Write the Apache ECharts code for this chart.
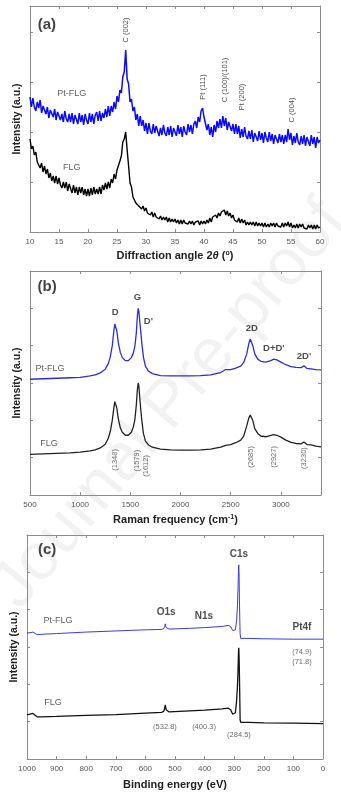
<!DOCTYPE html>
<html><head><meta charset="utf-8">
<script src="https://cdn.jsdelivr.net/npm/echarts@6/dist/echarts.min.js"></script>
<style>html,body{margin:0;padding:0;background:#fff}#c{width:341px;height:806px}</style>
</head><body><div id="c"></div>
<script>
// ---------- (a) XRD ----------
const xrdAngle = [10,10.25,10.5,10.75,11,11.25,11.5,11.75,12,12.25,12.5,12.75,13,13.25,13.5,13.75,14,14.25,14.5,14.75,
15,15.25,15.5,15.75,16,16.25,16.5,16.75,17,17.25,17.5,17.75,18,18.25,18.5,18.75,19,19.25,19.5,19.75,
20,20.25,20.5,20.75,21,21.25,21.5,21.75,22,22.25,22.5,22.75,23,23.25,23.5,23.75,24,24.25,24.5,24.75,
25,25.25,25.5,25.75,26,26.25,26.5,26.75,27,27.25,27.5,27.75,28,28.25,28.5,28.75,29,29.25,29.5,29.75,
30,30.25,30.5,30.75,31,31.25,31.5,31.75,32,32.25,32.5,32.75,33,33.25,33.5,33.75,34,34.25,34.5,34.75,
35,35.25,35.5,35.75,36,36.25,36.5,36.75,37,37.25,37.5,37.75,38,38.25,38.5,38.75,39,39.25,39.5,39.75,
40,40.25,40.5,40.75,41,41.25,41.5,41.75,42,42.25,42.5,42.75,43,43.25,43.5,43.75,44,44.25,44.5,44.75,
45,45.25,45.5,45.75,46,46.25,46.5,46.75,47,47.25,47.5,47.75,48,48.25,48.5,48.75,49,49.25,49.5,49.75,
50,50.25,50.5,50.75,51,51.25,51.5,51.75,52,52.25,52.5,52.75,53,53.25,53.5,53.75,54,54.25,54.5,54.75,
55,55.25,55.5,55.75,56,56.25,56.5,56.75,57,57.25,57.5,57.75,58,58.25,58.5,58.75,59,59.25,59.5,59.75,60];
const xrdPtFLG = [135,125,134,125,121,130,124,132,119,126,128,118,125,114,122,124,115,123,112,120,
121,112,118,110,121,113,110,118,110,119,108,117,115,108,119,110,117,107,118,112,
108,119,110,118,108,117,120,111,121,111,119,114,123,115,126,116,126,120,130,123,
136,130,142,139,155,160,182,153,148,130,133,121,125,112,118,106,116,106,112,101,
109,98,109,101,98,108,99,106,107,96,104,97,107,99,96,105,97,106,95,104,
103,96,107,98,105,95,106,100,97,108,100,107,98,108,111,104,115,110,121,124,
115,117,102,108,97,105,95,107,100,111,104,113,104,116,106,114,102,110,111,101,
108,98,108,98,106,94,103,95,105,96,93,101,93,102,90,99,98,91,101,92,
99,89,100,94,90,100,91,98,88,97,98,89,98,90,97,88,97,90,103,92,
99,87,96,89,99,90,87,96,88,97,86,95,94,86,97,88,95,84,95,89,92];
const xrdFLG = [93,83,86,77,80,70,72,64,69,60,66,58,63,54,59,51,56,49,56,48,
54,47,44,50,44,50,41,48,46,39,47,39,45,37,45,39,45,37,43,36,
43,36,44,37,45,38,43,38,45,38,47,42,49,43,50,44,53,49,58,53,
62,60,71,76,90,93,100,82,66,49,45,35,35,29,31,26,28,23,26,21,
24,19,21,17,20,15,19,15,17,13,16,12,15,12,15,10,14,10,13,10,
13,9,12,8,12,8,12,9,11,8,11,8,11,7,10,8,11,7,11,8,
11,8,12,9,14,10,15,13,17,14,19,16,20,18,22,17,21,16,19,14,
17,12,14,10,14,9,13,9,12,7,10,7,10,7,10,6,10,6,9,6,
9,5,9,5,8,5,9,6,9,5,9,6,8,5,9,5,9,6,10,5,
9,4,7,4,8,4,8,5,8,4,6,3,7,4,7,3,7,3,7,4,5];
const xrdPeakLabels = ['C (002)','Pt (111)','C (100)/(101)','Pt (200)','C (004)'];
const xrdPeakAt = [[26.5,202],[39.8,145],[43.6,152],[46.5,135],[55.2,122]];
const xrdTags = ['(a)','Pt-FLG','FLG'];
const xrdTagAt = [[12.9,207],[17.2,138],[17.2,64]];

// ---------- (b) Raman ----------
const ramanShift = [500,700,900,1000,1100,1150,1200,1250,1280,1300,1320,1335,1345,1350,1355,1365,1380,1400,1420,1450,
1480,1510,1530,1545,1560,1570,1578,1585,1595,1605,1615,1630,1650,1680,1720,1800,1900,2000,2100,2200,
2300,2400,2450,2500,2550,2600,2630,2660,2680,2695,2705,2720,2740,2770,2800,2850,2900,2930,2960,3000,
3050,3100,3150,3200,3230,3260,3300,3350,3400];
const ramanPtFLG = [3.10,3.12,3.14,3.15,3.19,3.22,3.27,3.37,3.52,3.70,4.00,4.38,4.58,4.62,4.58,4.40,4.08,3.82,3.68,3.60,
3.60,3.68,3.80,3.98,4.35,4.80,5.00,4.92,4.62,4.35,4.05,3.70,3.45,3.32,3.25,3.20,3.19,3.19,3.19,3.20,
3.22,3.28,3.36,3.36,3.40,3.45,3.55,3.78,4.05,4.18,4.16,4.00,3.78,3.64,3.58,3.56,3.60,3.64,3.62,3.56,
3.49,3.44,3.42,3.41,3.46,3.39,3.38,3.36,3.35];
const ramanFLG = [1.09,1.11,1.13,1.15,1.18,1.21,1.26,1.36,1.52,1.70,2.00,2.32,2.50,2.54,2.50,2.33,2.04,1.80,1.68,1.60,
1.60,1.68,1.82,2.02,2.42,2.82,3.00,2.92,2.58,2.25,1.98,1.65,1.45,1.34,1.28,1.23,1.21,1.20,1.20,1.21,
1.23,1.28,1.33,1.35,1.40,1.47,1.58,1.85,2.06,2.14,2.13,2.00,1.78,1.65,1.58,1.56,1.60,1.62,1.60,1.55,
1.47,1.41,1.38,1.37,1.42,1.35,1.34,1.31,1.29];
const ramanBandLabels = ['D','G',"D'",'2D',"D+D'","2D'"];
const ramanBandAt = [[1350,4.88],[1570,5.30],[1680,4.66],[2710,4.47],[2930,3.94],[3230,3.72]];
const ramanPosLabels = ['(1348)','(1579)','(1612)','(2685)','(2927)','(3230)'];
const ramanPosAt = [[1350,0.94],[1570,0.92],[1660,0.78],[2700,1.02],[2930,1.02],[3230,0.99]];
const ramanTags = ['(b)','Pt-FLG','FLG'];
const ramanTagAt = [[670,5.57],[700,3.40],[690,1.39]];

// ---------- (c) XPS ----------
const xpsBE = [1000,990,980,975,966,950,900,800,700,600,545,538,535,532.8,530,527,520,450,400,340,
320,312,305,300,296,292,289,287,285.5,284.5,283.5,282,280,278,250,200,100,0];
const xpsPtFLG = [3.38,3.38,3.40,3.38,3.33,3.34,3.36,3.40,3.43,3.46,3.47,3.49,3.55,3.62,3.52,3.48,3.48,3.50,3.52,3.55,
3.58,3.55,3.44,3.40,3.46,3.70,4.10,4.60,5.05,5.20,4.90,4.10,3.35,3.23,3.23,3.22,3.21,3.21];
const xpsFLG = [1.18,1.20,1.22,1.19,1.13,1.13,1.14,1.17,1.19,1.23,1.25,1.28,1.36,1.45,1.32,1.27,1.26,1.29,1.31,1.34,
1.36,1.32,1.20,1.15,1.24,1.55,1.95,2.40,2.85,2.98,2.75,2.10,1.05,0.98,0.98,0.97,0.96,0.95];
const xpsLineLabels = ['C1s','O1s','N1s','Pt4f'];
const xpsLineAt = [[284,5.49],[530,3.94],[402,3.83],[71,3.54]];
const xpsPosLabels = ['(74.9)','(71.8)','(532.8)','(400.3)','(284.5)'];
const xpsPosAt = [[71,2.87],[71,2.60],[534,0.86],[402,0.86],[284,0.64]];
const xpsTags = ['(c)','Pt-FLG','FLG'];
const xpsTagAt = [[932,5.60],[895,3.72],[912,1.50]];

const FONT = '"Liberation Sans", Arial, sans-serif';
const AX = '#8c8c8c';
const chart = echarts.init(document.getElementById('c'), null, {renderer:'canvas'});

const grids = [
  {left:30, top:6, width:290, height:226},
  {left:30, top:271, width:291, height:224},
  {left:27, top:535, width:296, height:224}
];

function xAxes(gi, min, max, interval, inverse, name, gap, rich){
  const common = {type:'value', gridIndex:gi, min, max, interval, inverse,
    axisLine:{show:true, onZero:false, lineStyle:{color:AX, width:1}},
    axisTick:{show:true, inside:true, length:3, lineStyle:{color:AX}},
    splitLine:{show:false}};
  return [
    Object.assign({}, common, {position:'bottom',
      axisLabel:{show:true, fontSize:8, color:'#555', margin:6, fontFamily:FONT,
        formatter:(v)=>String(v), showMaxLabel: (max % interval) === 0},
      name, nameLocation:'middle', nameGap:gap,
      nameTextStyle:{fontFamily:FONT, fontSize:11, fontWeight:'bold', color:'#222', rich}}),
    Object.assign({}, common, {position:'top', axisLabel:{show:false}})
  ];
}
function yAxes(gi, max, interval){
  const common = {type:'value', gridIndex:gi, min:0, max, interval,
    axisLine:{show:true, onZero:false, lineStyle:{color:AX, width:1}},
    axisTick:{show:true, inside:true, length:3, lineStyle:{color:AX}},
    axisLabel:{show:false}, splitLine:{show:false}};
  return [
    Object.assign({}, common, {position:'left', name:'Intensity (a.u.)', nameLocation:'middle', nameGap:7,
      nameTextStyle:{fontFamily:FONT, fontSize:10.5, fontWeight:'bold', color:'#222'}}),
    Object.assign({}, common, {position:'right'})
  ];
}
const richBase = {
  t:{fontFamily:FONT, fontSize:11, fontWeight:'bold', color:'#222'},
  i:{fontFamily:FONT, fontSize:11, fontWeight:'bold', fontStyle:'italic', color:'#222'},
  s:{fontFamily:FONT, fontSize:7, fontWeight:'bold', color:'#222', verticalAlign:'top'}
};
const xAxis = [].concat(
  xAxes(0, 10, 60, 5, false, '{t|Diffraction angle 2}{i|θ}{t| (}{s|o}{t|)}', 18, richBase),
  xAxes(1, 500, 3400, 500, false, '{t|Raman frequency (cm}{s|-1}{t|)}', 19, richBase),
  xAxes(2, 0, 1000, 100, true, 'Binding energy (eV)', 20, richBase)
);
const yAxis = [].concat(yAxes(0, 226, 50), yAxes(1, 6, 1), yAxes(2, 6, 1));

function pairs(xs, ys){ return xs.map((x,i)=>[x, ys[i]]); }
function line(gi, xs, ys, color, w){
  return {type:'line', xAxisIndex:gi*2, yAxisIndex:gi*2, data:pairs(xs, ys), showSymbol:false,
    symbol:'none', sampling:null, lineStyle:{color, width:w}, z:3, silent:true};
}
function notes(gi, texts, at, style){
  return texts.map((t,i)=>({name:t, value:at[i], label:Object.assign({}, style)}));
}
function noteSeries(gi, items){
  return {type:'scatter', xAxisIndex:gi*2, yAxisIndex:gi*2, symbolSize:1, silent:true, z:5,
    itemStyle:{color:'rgba(0,0,0,0)'},
    label:{show:true, position:'inside', formatter:'{b}', fontFamily:FONT},
    data:items};
}
const sPeak = {rotate:90, fontSize:7.5, color:'#222'};
const sTag = {fontSize:9, color:'#333'};
const sLetter = {fontSize:15, fontWeight:'bold', color:'#111'};
const sBold9 = {fontSize:9.5, fontWeight:'bold', color:'#222'};
const sBold10 = {fontSize:10, fontWeight:'bold', color:'#222'};
const sPos = {fontSize:7.5, color:'#444'};

function tagItems(gi, texts, at){
  return [notes(gi, texts.slice(0,1), at.slice(0,1), sLetter)[0]].concat(notes(gi, texts.slice(1), at.slice(1), sTag));
}

const series = [
  line(0, xrdAngle, xrdPtFLG, '#0a0aff', 1.5),
  line(0, xrdAngle, xrdFLG, '#000000', 1.4),
  noteSeries(0, notes(0, xrdPeakLabels, xrdPeakAt, sPeak).concat(tagItems(0, xrdTags, xrdTagAt))),
  line(1, ramanShift, ramanPtFLG, '#2b2be0', 1.3),
  line(1, ramanShift, ramanFLG, '#222222', 1.3),
  noteSeries(1, notes(1, ramanBandLabels, ramanBandAt, sBold9)
    .concat(notes(1, ramanPosLabels, ramanPosAt, Object.assign({}, sPos, {rotate:90})))
    .concat(tagItems(1, ramanTags, ramanTagAt))),
  line(2, xpsBE, xpsPtFLG, '#3a3aea', 1),
  line(2, xpsBE, xpsFLG, '#111111', 1.3),
  noteSeries(2, notes(2, xpsLineLabels, xpsLineAt, sBold10)
    .concat(notes(2, xpsPosLabels, xpsPosAt, sPos))
    .concat(tagItems(2, xpsTags, xpsTagAt)))
];

chart.setOption({
  animation:false,
  backgroundColor:'#fff',
  grid:grids,
  xAxis, yAxis, series,
  graphic:[{type:'text', x:170, y:405, rotation:0.87, z:-1, silent:true,
    style:{text:'Journal Pre-proof', fontSize:66, fontFamily:FONT, fill:'rgba(0,0,0,0.05)',
      align:'center', verticalAlign:'middle', textAlign:'center', textVerticalAlign:'middle'}}]
});
</script></body></html>
